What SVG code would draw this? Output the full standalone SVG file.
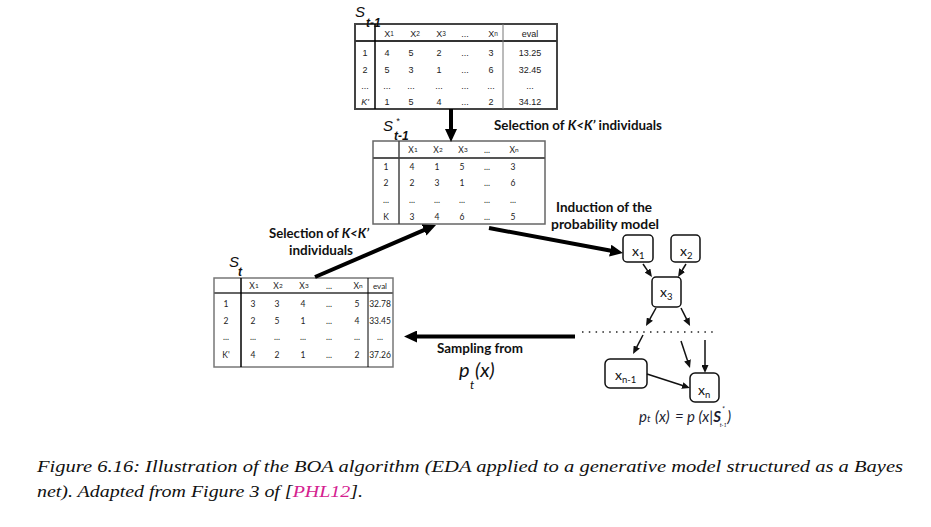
<svg xmlns="http://www.w3.org/2000/svg" width="931" height="527" viewBox="0 0 931 527">
<defs>
<style>
.t1{font-family:"Liberation Sans",Arial,sans-serif;font-size:9px;fill:#222;text-anchor:middle}
.t2{font-family:"Lato","Liberation Sans",sans-serif;font-size:8.5px;fill:#222;text-anchor:middle}
.sub{font-size:6.5px}
.lbl{font-family:"Lato","Liberation Sans",sans-serif;font-weight:bold;font-size:13px;fill:#111}
.ttl{font-family:"Liberation Sans",Arial,sans-serif;font-style:italic;fill:#111}
.node rect{fill:#fff;stroke:#111;stroke-width:1.5}
.nl{font-family:"Lato","Liberation Sans",sans-serif;font-size:14px;fill:#111}
.ns{font-size:9.5px}
.big{stroke:#000;stroke-width:4;fill:none}
.thin{stroke:#111;stroke-width:1.5;fill:none}
.cap{font-family:"Liberation Serif","Times New Roman",serif;font-style:italic;font-size:16px;fill:#111}
.fm{font-family:"Lato","Liberation Sans",sans-serif;font-style:italic;font-size:15px;fill:#1c1c30}
</style>
<marker id="ah" markerUnits="userSpaceOnUse" markerWidth="13" markerHeight="12" viewBox="0 0 13 12" refX="1" refY="6" orient="auto"><path d="M0,0 L13,6 L0,12 z" fill="#000"/></marker>
<marker id="as" markerUnits="userSpaceOnUse" markerWidth="8" markerHeight="7" viewBox="0 0 8 7" refX="1" refY="3.5" orient="auto"><path d="M0,0 L8,3.5 L0,7 z" fill="#111"/></marker>
</defs>
<rect width="931" height="527" fill="#fff"/>

<!-- Table S_{t-1} -->
<g id="table-st1">
<rect x="355" y="24" width="202" height="85" fill="#fff" stroke="#444" stroke-width="2"/>
<line x1="355" y1="41" x2="557" y2="41" stroke="#333" stroke-width="2"/>
<line x1="375" y1="24" x2="375" y2="109" stroke="#000" stroke-width="1.5"/>
<line x1="503" y1="24" x2="503" y2="109" stroke="#777" stroke-width="1"/>
<text class="ttl" x="355" y="17" font-size="15">S</text>
<text class="ttl" x="366" y="27" font-size="12" font-weight="bold">t-1</text>
<text class="t1" y="37"><tspan x="389">X<tspan class="sub" dy="-1.5">1</tspan></tspan><tspan x="415" dy="1.5">X<tspan class="sub" dy="-1.5">2</tspan></tspan><tspan x="441" dy="1.5">X<tspan class="sub" dy="-1.5">3</tspan></tspan><tspan x="465" dy="1.5">...</tspan><tspan x="493">X<tspan class="sub" dy="-1.5">n</tspan></tspan><tspan x="530" dy="1.5">eval</tspan></text>
<text class="t1" y="55.5"><tspan x="365">1</tspan><tspan x="387">4</tspan><tspan x="411">5</tspan><tspan x="439">2</tspan><tspan x="465">...</tspan><tspan x="491">3</tspan><tspan x="530">13.25</tspan></text>
<text class="t1" y="72.5"><tspan x="365">2</tspan><tspan x="387">5</tspan><tspan x="411">3</tspan><tspan x="439">1</tspan><tspan x="465">...</tspan><tspan x="491">6</tspan><tspan x="530">32.45</tspan></text>
<text class="t1" y="88.5"><tspan x="365">...</tspan><tspan x="387">...</tspan><tspan x="411">...</tspan><tspan x="439">...</tspan><tspan x="465">...</tspan><tspan x="491">...</tspan><tspan x="530">...</tspan></text>
<text class="t1" y="104.5"><tspan x="365" font-style="italic">K'</tspan><tspan x="387">1</tspan><tspan x="411">5</tspan><tspan x="439">4</tspan><tspan x="465">...</tspan><tspan x="491">2</tspan><tspan x="530">34.12</tspan></text>
</g>

<!-- Table S*_{t-1} -->
<g id="table-sst1">
<rect x="373" y="141" width="172" height="83" fill="#fff" stroke="#666" stroke-width="1.5"/>
<line x1="373" y1="158" x2="545" y2="158" stroke="#555" stroke-width="2"/>
<line x1="399" y1="141" x2="399" y2="224" stroke="#444" stroke-width="1.5"/>
<text class="ttl" x="383" y="131" font-size="15">S</text>
<text class="ttl" x="396" y="124" font-size="9">*</text>
<text class="ttl" x="394" y="140" font-size="12" font-weight="bold">t-1</text>
<text class="t2" y="153"><tspan x="413">X<tspan class="sub" dy="-1">1</tspan></tspan><tspan x="438" dy="1">X<tspan class="sub" dy="-1">2</tspan></tspan><tspan x="463" dy="1">X<tspan class="sub" dy="-1">3</tspan></tspan><tspan x="487" dy="1">...</tspan><tspan x="514">X<tspan class="sub" dy="-1">n</tspan></tspan></text>
<text class="t2" y="170"><tspan x="386">1</tspan><tspan x="412">4</tspan><tspan x="437">1</tspan><tspan x="462">5</tspan><tspan x="487">...</tspan><tspan x="513">3</tspan></text>
<text class="t2" y="186"><tspan x="386">2</tspan><tspan x="412">2</tspan><tspan x="437">3</tspan><tspan x="462">1</tspan><tspan x="487">...</tspan><tspan x="513">6</tspan></text>
<text class="t2" y="203"><tspan x="386">...</tspan><tspan x="412">...</tspan><tspan x="437">...</tspan><tspan x="462">...</tspan><tspan x="487">...</tspan><tspan x="513">...</tspan></text>
<text class="t2" y="220"><tspan x="386">K</tspan><tspan x="412">3</tspan><tspan x="437">4</tspan><tspan x="462">6</tspan><tspan x="487">...</tspan><tspan x="513">5</tspan></text>
</g>

<!-- Table S_t -->
<g id="table-st">
<rect x="214" y="278" width="179" height="89" fill="#fff" stroke="#777" stroke-width="1.5"/>
<line x1="214" y1="293" x2="393" y2="293" stroke="#666" stroke-width="2"/>
<line x1="241" y1="278" x2="241" y2="367" stroke="#000" stroke-width="1.5"/>
<line x1="368" y1="278" x2="368" y2="367" stroke="#000" stroke-width="1"/>
<text class="ttl" x="229" y="267" font-size="15">S</text>
<text class="ttl" x="238" y="276" font-size="12" font-weight="bold">t</text>
<text class="t2" y="289"><tspan x="254">X<tspan class="sub" dy="-1">1</tspan></tspan><tspan x="278" dy="1">X<tspan class="sub" dy="-1">2</tspan></tspan><tspan x="304" dy="1">X<tspan class="sub" dy="-1">3</tspan></tspan><tspan x="329" dy="1">...</tspan><tspan x="358">X<tspan class="sub" dy="-1">n</tspan></tspan><tspan x="380" dy="1" font-size="8">eval</tspan></text>
<text class="t2" y="307"><tspan x="226">1</tspan><tspan x="253">3</tspan><tspan x="277">3</tspan><tspan x="303">4</tspan><tspan x="329">...</tspan><tspan x="357">5</tspan><tspan x="380">32.78</tspan></text>
<text class="t2" y="324"><tspan x="226">2</tspan><tspan x="253">2</tspan><tspan x="277">5</tspan><tspan x="303">1</tspan><tspan x="329">...</tspan><tspan x="357">4</tspan><tspan x="380">33.45</tspan></text>
<text class="t2" y="340"><tspan x="226">...</tspan><tspan x="253">...</tspan><tspan x="277">...</tspan><tspan x="303">...</tspan><tspan x="329">...</tspan><tspan x="357">...</tspan><tspan x="380">...</tspan></text>
<text class="t2" y="358"><tspan x="226">K'</tspan><tspan x="253">4</tspan><tspan x="277">2</tspan><tspan x="303">1</tspan><tspan x="329">...</tspan><tspan x="357">2</tspan><tspan x="380">37.26</tspan></text>
</g>

<!-- Bayes net nodes -->
<g id="node-x1" class="node"><rect x="623" y="235" width="30" height="27" rx="4"/><text class="nl" x="632" y="256">x<tspan class="ns" dy="3">1</tspan></text></g>
<g id="node-x2" class="node"><rect x="671" y="235" width="29" height="27" rx="4"/><text class="nl" x="680" y="256">x<tspan class="ns" dy="3">2</tspan></text></g>
<g id="node-x3" class="node"><rect x="652" y="277" width="29" height="30" rx="4"/><text class="nl" x="660" y="297">x<tspan class="ns" dy="3">3</tspan></text></g>
<g id="node-xn1" class="node"><rect x="605" y="359" width="42" height="29" rx="5"/><text class="nl" x="615" y="380">x<tspan class="ns" dy="3">n-1</tspan></text></g>
<g id="node-xn" class="node"><rect x="690" y="373" width="29" height="29" rx="5"/><text class="nl" x="698" y="395">x<tspan class="ns" dy="3">n</tspan></text></g>

<!-- Labels -->
<g id="labels">
<text class="lbl" x="494" y="130" textLength="168" lengthAdjust="spacingAndGlyphs">Selection of <tspan font-style="italic">K&lt;K’</tspan> individuals</text>
<text class="lbl" x="556" y="212" textLength="96" lengthAdjust="spacingAndGlyphs">Induction of the</text>
<text class="lbl" x="551" y="229" textLength="108" lengthAdjust="spacingAndGlyphs">probability model</text>
<text class="lbl" x="269" y="238" textLength="100" lengthAdjust="spacingAndGlyphs">Selection of <tspan font-style="italic">K&lt;K’</tspan></text>
<text class="lbl" x="289" y="255" textLength="64" lengthAdjust="spacingAndGlyphs">individuals</text>
<text class="lbl" x="437" y="353" textLength="86" lengthAdjust="spacingAndGlyphs">Sampling from</text>
<text x="459" y="377" font-family="Lato,'Liberation Sans',sans-serif" font-style="italic" font-size="20" fill="#111">p<tspan font-size="12" x="470" y="389">t</tspan><tspan x="475" y="377">(x)</tspan></text>
<text class="fm" y="422"><tspan x="639">p</tspan><tspan x="647" font-size="10">t</tspan><tspan x="655">(x)</tspan><tspan x="675">=</tspan><tspan x="687">p (x|</tspan><tspan font-weight="bold">S</tspan><tspan font-size="7" dx="1" dy="-10">*</tspan><tspan font-size="5.5" dx="-5" dy="15">t-1</tspan><tspan dx="0.5" dy="-5">)</tspan></text>
</g>

<!-- Connectors -->
<g id="connectors">
<line class="big" x1="451" y1="109" x2="451" y2="130" marker-end="url(#ah)"/>
<line class="big" x1="315" y1="277" x2="425" y2="229.7" marker-end="url(#ah)"/>
<line class="big" x1="489" y1="228" x2="611.2" y2="250.8" marker-end="url(#ah)"/>
<line class="big" x1="575" y1="336.5" x2="416" y2="336.5" marker-end="url(#ah)"/>
<line class="thin" x1="643" y1="264" x2="648" y2="271.3" marker-end="url(#as)"/>
<line class="thin" x1="686" y1="264" x2="681.7" y2="271" marker-end="url(#as)"/>
<line class="thin" x1="656" y1="308" x2="649.4" y2="319.9" marker-end="url(#as)"/>
<line class="thin" x1="681" y1="308" x2="686.9" y2="319.7" marker-end="url(#as)"/>
<line x1="582" y1="332" x2="716" y2="332" stroke="#222" stroke-width="1.5" stroke-dasharray="1.5 5.3"/>
<line class="thin" x1="643" y1="335" x2="636.3" y2="347.8" marker-end="url(#as)"/>
<line class="thin" x1="681" y1="341" x2="687.8" y2="361.4" marker-end="url(#as)"/>
<line class="thin" x1="705" y1="340" x2="705" y2="366" marker-end="url(#as)"/>
<line class="thin" x1="647" y1="374" x2="683.3" y2="385.8" marker-end="url(#as)"/>
</g>

<!-- Caption -->
<g id="caption">
<text class="cap" x="37" y="472" textLength="866" lengthAdjust="spacingAndGlyphs">Figure 6.16: Illustration of the BOA algorithm (EDA applied to a generative model structured as a Bayes</text>
<text class="cap" x="37" y="497" textLength="326" lengthAdjust="spacingAndGlyphs">net). Adapted from Figure 3 of [<tspan fill="#d4208f">PHL12</tspan>].</text>
</g>
</svg>
